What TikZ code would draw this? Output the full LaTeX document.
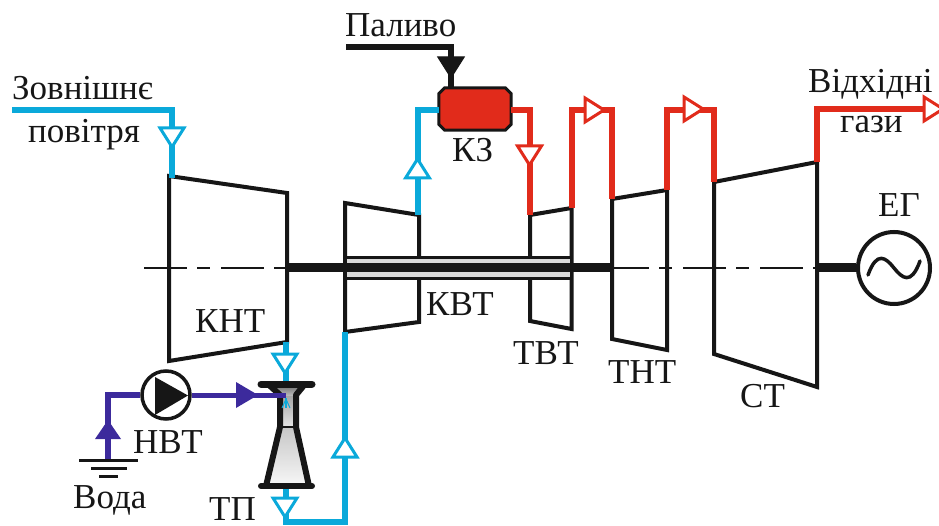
\documentclass[tikz,border=0pt]{standalone}
\usepackage{fontspec}
\setmainfont{Liberation Serif}
\definecolor{airblue}{HTML}{0AA9DA}
\definecolor{hotred}{HTML}{E12B1B}
\definecolor{watervio}{HTML}{3C2A9C}
\definecolor{ink}{HTML}{161616}
\tikzset{
  x=1pt,y=-1pt,
  lab/.style={anchor=base west,inner sep=0pt,font=\fontsize{35}{35}\selectfont,text=ink},
  casing/.style={draw=ink,line width=4pt,miter limit=4,fill=white},
  shaft/.style={draw=ink,line width=9pt},
  air/.style={draw=airblue,line width=6pt},
  gas/.style={draw=hotred,line width=6pt},
  water/.style={draw=watervio,line width=6pt},
  fuel/.style={draw=ink,line width=6pt},
  tipopen/.style={line width=3pt,fill=white},
  flowtip/.pic={\path[pic actions,line join=miter] (0,-12) -- (19,0) -- (0,12) -- cycle;},
  bar/.style={draw=ink,line width=7pt,line cap=round},
}
\begin{document}
\begin{tikzpicture}
\useasboundingbox (0,0) rectangle (939,526);
% named points
\coordinate (airIn) at (12,110);
\coordinate (airCorner) at (172,110);
\coordinate (khtIn) at (172,178);
\coordinate (khtOut) at (286,342);
\coordinate (tpTop) at (286,384);
\coordinate (tpBot) at (286,486);
\coordinate (loopA) at (286,522);
\coordinate (loopB) at (345,522);
\coordinate (kvtIn) at (345,332);
\coordinate (kvtOut) at (417.5,215);
\coordinate (kvtCorner) at (417.5,110);
\coordinate (fuelIn) at (346,47);
\coordinate (fuelCorner) at (451,47);
\coordinate (gasA) at (529.5,110);
\coordinate (tvtIn) at (529.5,215);
\coordinate (tvtOut) at (571.5,208);
\coordinate (gasB) at (571.5,110);
\coordinate (gasC) at (612,110);
\coordinate (thtIn) at (612,199);
\coordinate (thtOut) at (667,190);
\coordinate (gasD) at (667,110);
\coordinate (gasE) at (714,110);
\coordinate (stIn) at (714,182);
\coordinate (stOut) at (817,162);
\coordinate (gasF) at (817,109);
\coordinate (gasEnd) at (925,109);
\coordinate (gnd) at (108,460);
\coordinate (waterCorner) at (108,395);
\coordinate (nozzle) at (286,395);
% casings
\draw[casing] (169,176) -- (287,193) -- (287,342) -- (169,361) -- cycle;
\draw[casing] (345,203) -- (419,215) -- (419,322) -- (345,332) -- cycle;
\draw[casing] (530,215) -- (571.5,208) -- (571.5,329) -- (530,321) -- cycle;
\draw[casing] (612,199) -- (667,190) -- (667,350) -- (612,339) -- cycle;
\draw[casing] (714,182) -- (817,162) -- (817,387) -- (714,354) -- cycle;
% centre line
\draw[ink,line width=1.5pt,dash pattern=on 43pt off 10pt on 13pt off 11pt] (144,268) -- (817,268);
% shafts
\draw[draw=ink,line width=3pt,fill=black!15] (345,257.5) rectangle (571.5,278.5);
\draw[shaft] (287,268) -- (612,268);
\node[circle,draw=ink,line width=4pt,fill=white,minimum size=72pt,inner sep=0pt] (eg) at (894,268) {};
\draw[shaft] (817,268) -- (eg.west);
\draw[ink,line width=3.5pt,line cap=round] (868,275) .. controls (877,250) and (886,258) .. (894,268) .. controls (902,278) and (911,286) .. (920,261);
% combustor
\node[rectangle,minimum width=72pt,minimum height=42pt,inner sep=0pt] (kz) at (475,109) {};
\draw[draw=ink,line width=3pt,fill=hotred,line join=miter]
  ([xshift=6pt]kz.north west) -- ([xshift=-6pt]kz.north east) -- ([yshift=-6pt]kz.north east)
  -- ([yshift=6pt]kz.south east) -- ([xshift=-6pt]kz.south east) -- ([xshift=6pt]kz.south west)
  -- ([yshift=6pt]kz.south west) -- ([yshift=-6pt]kz.north west) -- cycle;
% air
\draw[air] (airIn) -- (airCorner) -- (khtIn);
\draw[air] (khtOut) -- (tpTop);
\draw[air] (tpBot) -- (loopA) -- (loopB) -- (kvtIn);
\draw[air] (kvtOut) -- (kvtCorner) -- (kvtCorner -| kz.west);
\pic[draw=airblue,tipopen,rotate=-90] at (172,128) {flowtip};
\pic[draw=airblue,tipopen,rotate=-90] at (285,354) {flowtip};
\pic[draw=airblue,tipopen,rotate=-90] at (285,498) {flowtip};
\pic[draw=airblue,tipopen,rotate=90] at (345,457) {flowtip};
\pic[draw=airblue,tipopen,rotate=90] at (417.5,178) {flowtip};
% gas
\draw[gas] (gasA -| kz.east) -- (gasA) -- (tvtIn);
\draw[gas] (tvtOut) -- (gasB) -- (gasC) -- (thtIn);
\draw[gas] (thtOut) -- (gasD) -- (gasE) -- (stIn);
\draw[gas] (stOut) -- (gasF) -- (gasEnd);
\pic[draw=hotred,tipopen,rotate=-90] at (529.5,146) {flowtip};
\pic[draw=hotred,tipopen] at (585,110) {flowtip};
\pic[draw=hotred,tipopen] at (684,109) {flowtip};
\pic[draw=hotred,tipopen] at (924,109) {flowtip};
% fuel
\draw[fuel] (fuelIn) -- (fuelCorner) -- (fuelCorner |- kz.north);
\pic[draw=ink,fill=ink,rotate=-90,line width=1pt,scale=1.1] at (451,57) {flowtip};
% ejector
\path[top color=black!60,bottom color=black!25] (269,384) -- (304,384) -- (296,396) -- (279,396) -- cycle;
\path[top color=black!35,bottom color=black!10] (279,396) rectangle (296,427);
\path[top color=black!22,bottom color=black!3] (279,427) -- (296,427) -- (309,486) -- (266,486) -- cycle;
\draw[ink,line width=6pt,line join=round] (268,384) -- (280,395) -- (280,427) -- (266,486);
\draw[ink,line width=6pt,line join=round] (305,384) -- (296,395) -- (296,427) -- (309,486);
\draw[ink,line width=1.5pt] (279,427) -- (296,427);
\draw[bar] (261,384) -- (312,384);
\draw[bar,line width=6pt] (261,486) -- (312,486);
\draw[air,line width=1.5pt] (286,398) -- (286,408);
\draw[air,line width=1pt] (282,408) -- (286,399) -- (290,408);
% pump and water
\node[circle,draw=ink,line width=3.5pt,fill=white,minimum size=48pt,inner sep=0pt] (pump) at (166,395) {};
\draw[water] (gnd) -- (waterCorner) -- (pump.west);
\draw[water,line width=5pt] (pump.east) -- (nozzle);
\path[fill=ink] (155,377) -- (188,395.5) -- (155,415) -- cycle;
\path[fill=watervio] (236,382) -- (258,395) -- (236,408) -- cycle;
\path[fill=watervio] (108,420) -- (121,439) -- (95,439) -- cycle;
% ground
\draw[ink,line width=3pt] (79,460.5) -- (138,460.5);
\draw[ink,line width=3pt] (91,468) -- (127,468);
\draw[ink,line width=3pt] (99,476) -- (118,476);
% labels
\node[lab] (t1) at (12,100) {Зовнішнє};
\node[lab] (t2) at (28,143) {повітря};
\node[lab] (t3) at (345,37) {Паливо};
\node[lab] (t4) at (452,162) {КЗ};
\node[lab] (t5) at (808,93) {Відхідні};
\node[lab] (t6) at (840,133) {гази};
\node[lab] (t7) at (878,217) {ЕГ};
\node[lab] (t8) at (195,333) {КНТ};
\node[lab] (t9) at (426,316) {КВТ};
\node[lab] (t10) at (513,364) {ТВТ};
\node[lab] (t11) at (608,383) {ТНТ};
\node[lab] (t12) at (740,407) {СТ};
\node[lab] (t13) at (133,453) {НВТ};
\node[lab] (t14) at (73,508) {Вода};
\node[lab] (t15) at (209,520) {ТП};
\end{tikzpicture}
\end{document}
